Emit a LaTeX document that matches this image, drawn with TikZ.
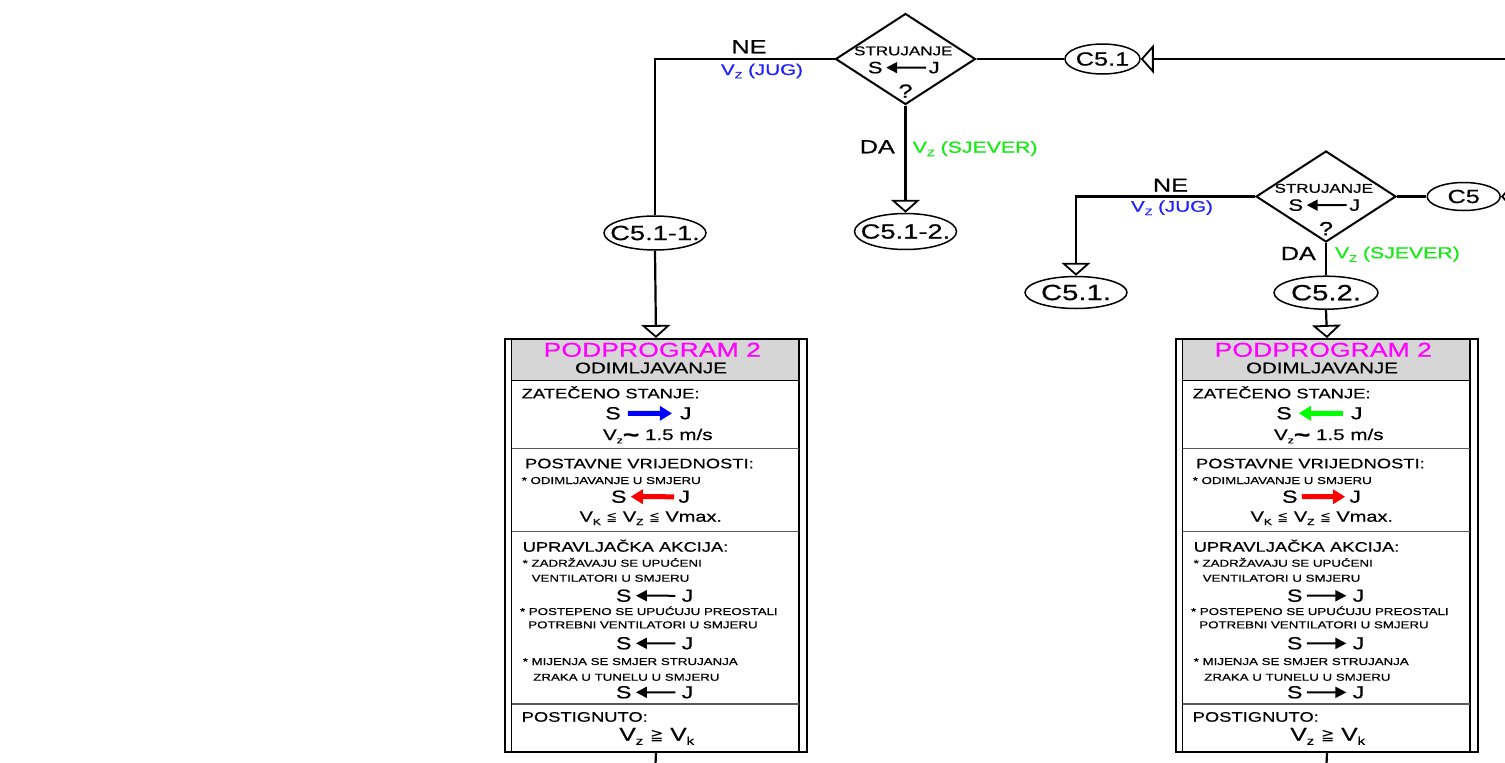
\documentclass[tikz,border=0pt]{standalone}
\usepackage{fontspec}
\usepackage{graphicx}
\setmainfont{Liberation Sans}[FakeStretch=1.33,FakeBold=0.6]
\newfontfamily\symfont{DejaVu Sans}
\usetikzlibrary{arrows.meta,shapes.geometric}
\newcommand\setfs[1]{\fontsize{#1}{#1}\selectfont}
\newcommand\lowsub[1]{\raisebox{-0.22em}{\scalebox{0.6}{#1}}}
\newcommand\myleqq{{\symfont\fontsize{13}{13}\selectfont ≦}}
\newcommand\mygeqq{{\symfont\fontsize{16}{16}\selectfont ≧}}
\newcommand\fattilde{\raisebox{-0.12em}{\fontsize{21}{21}\selectfont\bfseries\textasciitilde}}
\newcommand\inell[1]{\makebox[0pt]{#1}}
\definecolor{lblblue}{RGB}{30,30,255}
\definecolor{lblgreen}{RGB}{20,235,20}
\definecolor{pmag}{RGB}{255,0,255}
\definecolor{fanblue}{RGB}{0,0,255}
\definecolor{fanred}{RGB}{255,0,0}
\definecolor{fangreen}{RGB}{0,255,0}
\definecolor{hdrgray}{RGB}{214,214,214}
\tikzset{
  flow/.style={line width=2.2pt},
  opentip/.style={-{Triangle[open,length=13pt,width=29pt,line width=1.8pt]}},
  txt/.style={inner sep=0pt, outer sep=0pt},
  sj/.style={txt, font=\setfs{17.5}},
  dia/.style={diamond, draw, line width=2pt, minimum width=140pt, minimum height=91pt, inner sep=0pt},
  ell/.style={ellipse, draw, line width=1.5pt, inner sep=0pt},
  pbox/.style={rectangle, draw, line width=2pt, minimum width=302pt, minimum height=413pt, inner sep=0pt},
  sepline/.style={line width=1.2pt, draw=black!65},
  fatR/.style={line width=5pt, -{Triangle[length=12pt,width=14pt]}},
  fatL/.style={line width=5pt, {Triangle[length=12pt,width=14pt]}-},
  thinR/.style={line width=2pt, -{Triangle[length=11pt,width=11pt]}},
  thinL/.style={line width=2pt, {Triangle[length=11pt,width=11pt]}-},
}
\newcommand\Decision[3]{%
  \begin{scope}[shift={(#2,#3)}]
    \node[dia] (#1) at (0,0) {};
    \node[txt, anchor=base, font=\setfs{12.8}] (#1t) at (-2.2,-3.7) {STRUJANJE};
    \node[txt, anchor=base, font=\setfs{16.5}] (#1s) at (-30.3,14.3) {S};
    \node[txt, anchor=base, font=\setfs{16.5}] (#1j) at (28.7,14.3) {J};
    \node[txt, anchor=base, font=\setfs{19}] (#1q) at (0,38.7) {?};
    \draw[thinL, shorten <=3.7pt, shorten >=2.6pt] (#1s.east) -- (#1j.west);
  \end{scope}}
\newcommand\PBox[5]{%
  \begin{scope}[shift={(#2,338)}]
    \fill[hdrgray] (7.5,0) rectangle (295,42.7);
    \node[pbox, anchor=north west] (#1) at (0,0) {};
    \draw[line width=1.5pt] (7.5,0) -- (7.5,413);
    \draw[line width=1.5pt] (295,0) -- (295,413);
    \draw[line width=1.2pt] (7.5,42.7) -- (295,42.7);
    \draw[sepline] (7.5,110.3) -- (295,110.3);
    \draw[sepline] (7.5,193.7) -- (295,193.7);
    \draw[sepline] (7.5,366) -- (295,366);
    \node[txt, anchor=base, font=\setfs{20}, text=pmag] (#1h1) at (148.3,18.7) {PODPROGRAM 2};
    \node[txt, anchor=base, font=\setfs{15.4}] (#1h2) at (147,35.3) {ODIMLJAVANJE};
    \node[txt, anchor=base west, font=\setfs{13.8}] (#1z) at (17.7,60.3) {ZATEČENO STANJE:};
    \node[sj, anchor=base] (#1s1) at (109,81.3) {S};
    \node[sj, anchor=base] (#1j1) at (181.8,81.3) {J};
    \draw[#3, shorten <=7pt, shorten >=8pt] (#1s1.east) -- (#1j1.west);
    \node[txt, anchor=base, font=\setfs{15.5}] (#1v) at (153.8,102) {V\lowsub{z}\fattilde\ 1.5 m/s};
    \node[txt, anchor=base west, font=\setfs{13.8}] (#1p) at (21,130.3) {POSTAVNE VRIJEDNOSTI:};
    \node[txt, anchor=base west, font=\setfs{10}] (#1p1) at (17.7,146) {* ODIMLJAVANJE U SMJERU};
    \node[sj, anchor=base] (#1s2) at (114.8,164.7) {S};
    \node[sj, anchor=base] (#1j2) at (180.2,164.7) {J};
    \draw[#4, shorten <=4.2pt, shorten >=4.2pt] (#1s2.east) -- (#1j2.west);
    \node[txt, anchor=base, font=\setfs{15}] (#1k) at (146.8,183.7) {V\lowsub{K} \myleqq{} V\lowsub{Z} \myleqq{} Vmax.};
    \node[txt, anchor=base west, font=\setfs{13.8}] (#1u) at (18.7,213.7) {UPRAVLJAČKA AKCIJA:};
    \node[txt, anchor=base west, font=\setfs{10}] (#1u1) at (18.7,228.7) {* ZADRŽAVAJU SE UPUĆENI};
    \node[txt, anchor=base west, font=\setfs{10}] (#1u2) at (27.7,243.7) {VENTILATORI U SMJERU};
    \node[sj, anchor=base] (#1s3) at (119.7,263.7) {S};
    \node[sj, anchor=base] (#1j3) at (183.5,263.7) {J};
    \draw[#5, shorten <=4.5pt, shorten >=6.3pt] (#1s3.east) -- (#1j3.west);
    \node[txt, anchor=base west, font=\setfs{10}] (#1u3) at (16,277) {* POSTEPENO SE UPUĆUJU PREOSTALI};
    \node[txt, anchor=base west, font=\setfs{10}] (#1u4) at (24.3,290.3) {POTREBNI VENTILATORI U SMJERU};
    \node[sj, anchor=base] (#1s4) at (119.7,311.3) {S};
    \node[sj, anchor=base] (#1j4) at (183.5,311.3) {J};
    \draw[#5, shorten <=4.5pt, shorten >=6.3pt] (#1s4.east) -- (#1j4.west);
    \node[txt, anchor=base west, font=\setfs{10}] (#1u5) at (18.7,327) {* MIJENJA SE SMJER STRUJANJA};
    \node[txt, anchor=base west, font=\setfs{10}] (#1u6) at (29.3,342.7) {ZRAKA U TUNELU U SMJERU};
    \node[sj, anchor=base] (#1s5) at (119.7,360.3) {S};
    \node[sj, anchor=base] (#1j5) at (183.5,360.3) {J};
    \draw[#5, shorten <=4.5pt, shorten >=6.3pt] (#1s5.east) -- (#1j5.west);
    \node[txt, anchor=base west, font=\setfs{13.8}] (#1g) at (17.7,383.7) {POSTIGNUTO:};
    \node[txt, anchor=base, font=\setfs{18.5}] (#1gv) at (152.7,402.7) {V\lowsub{z} \mygeqq{} V\lowsub{k}};
  \end{scope}}
\begin{document}
\begin{tikzpicture}[x=1pt, y=-1pt]
  \useasboundingbox (0,0) rectangle (1505,763);
  \clip (0,0) rectangle (1505,763);
  % decisions
  \Decision{d1}{905.5}{59}
  \Decision{d2}{1326}{196.5}
  % connectors (ellipses)
  \node[ell, minimum width=102pt, minimum height=34pt, font=\setfs{20.5}] (c511) at (655,233) {\inell{C5.1-1.}};
  \node[ell, minimum width=102pt, minimum height=36pt, font=\setfs{20.5}] (c512) at (905.5,231.5) {\inell{C5.1-2.}};
  \node[ell, minimum width=75pt, minimum height=30pt, font=\setfs{19}] (c51) at (1102.5,59) {\inell{C5.1}};
  \node[ell, minimum width=102pt, minimum height=32pt, font=\setfs{22}] (c51b) at (1076,292.5) {\inell{C5.1.}};
  \node[ell, minimum width=104pt, minimum height=33pt, font=\setfs{22}] (c52) at (1326,292.7) {\inell{C5.2.}};
  \node[ell, minimum width=73pt, minimum height=28pt, font=\setfs{19}] (c5) at (1463.7,196.5) {\inell{C5}};
  % boxes
  \PBox{b1}{504}{fatR, fanblue}{fatL, fanred}{thinL}
  \PBox{b2}{1175}{fatL, fangreen}{fatR, fanred}{thinR}
  % labels
  \node[txt, anchor=base, font=\setfs{19}] (ne1) at (749,53.3) {NE};
  \node[txt, anchor=base, font=\setfs{15.5}, text=lblblue] (jug1) at (762,75) {V\lowsub{Z} (JUG)};
  \node[txt, anchor=base, font=\setfs{19}] (da1) at (877.3,153.3) {DA};
  \node[txt, anchor=base west, font=\setfs{16}, text=lblgreen] (sj1) at (912.7,152.7) {V\lowsub{Z} (SJEVER)};
  \node[txt, anchor=base, font=\setfs{19}] (ne2) at (1170.5,191.7) {NE};
  \node[txt, anchor=base, font=\setfs{15.5}, text=lblblue] (jug2) at (1172,211.7) {V\lowsub{Z} (JUG)};
  \node[txt, anchor=base, font=\setfs{19}] (da2) at (1298.3,260) {DA};
  \node[txt, anchor=base west, font=\setfs{16}, text=lblgreen] (sj2) at (1335,258.3) {V\lowsub{Z} (SJEVER)};
  % free ends
  \coordinate (inA) at (1540,59);
  \coordinate (inB) at (1540,196.5);
  \coordinate (out1) at (655,775);
  \coordinate (out2) at (1326,775);
  % flow lines
  \draw[flow] (d1.west) -| (c511.north);
  \draw[flow, opentip] (c511.south) -- (b1.north);
  \draw[flow, opentip] (d1.south) -- (c512.north);
  \draw[flow] (d1.east) -- (c51.west);
  \draw[flow, opentip] (inA) -- (c51.east);
  \draw[flow, opentip] (d2.west) -| (c51b.north);
  \draw[flow] (d2.south) -- (c52.north);
  \draw[flow, opentip] (c52.south) -- (b2.north);
  \draw[flow] (d2.east) -- (c5.west);
  \draw[flow, opentip] (inB) -- (c5.east);
  \draw[flow] (b1.south) -- (out1);
  \draw[flow] (b2.south) -- (out2);
\end{tikzpicture}
\end{document}
